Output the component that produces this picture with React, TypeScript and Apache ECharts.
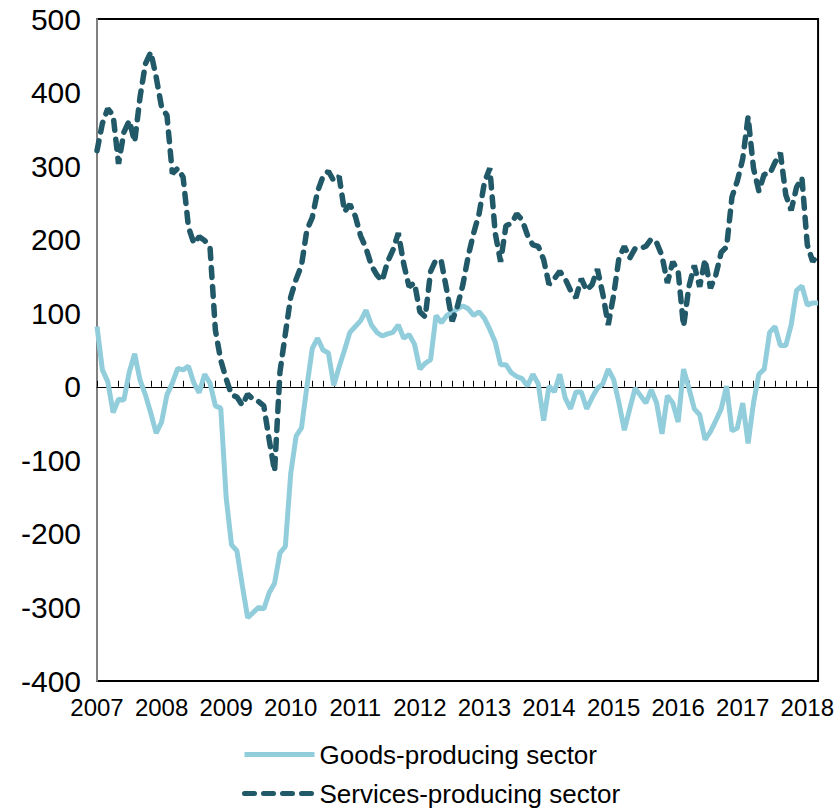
import React, { useEffect, useRef } from "react";
import * as echarts from "echarts";

const years = [2007, 2008, 2009, 2010, 2011, 2012, 2013, 2014, 2015, 2016, 2017, 2018];
const monthCount = 135; // Jan 2007 .. Mar 2018

const categories: string[] = [];
for (const y of years) {
  for (let m = 1; m <= 12; m++) {
    if (categories.length < monthCount) categories.push(`${y}-${String(m).padStart(2, "0")}`);
  }
}

const goods = [
  82, 23, 7, -35, -17, -18, 20, 45, 9, -11, -36, -63,
  -48, -11, 5, 25, 23, 28, 5, -8, 17, 5, -26, -29,
  -150, -215, -223, -270, -314, -307, -300, -302, -280, -267, -226, -217,
  -118, -67, -56, 0, 52, 66, 50, 46, 2, 27, 50, 74,
  82, 90, 104, 84, 74, 69, 72, 74, 84, 66, 71, 58,
  24, 32, 37, 97, 87, 97, 101, 106, 110, 106, 97, 102,
  93, 78, 61, 30, 30, 19, 14, 11, 1, 17, 4, -46,
  1, -7, 17, -15, -30, -7, -7, -30, -15, -2, 4, 24,
  10, -22, -59, -30, -2, -12, -22, -4, -22, -64, -12, -22,
  -48, 24, -2, -30, -38, -72, -61, -46, -30, 1, -60, -56,
  -22, -77, -22, 17, 24, 74, 82, 56, 56, 84, 131, 137,
  111, 114, 114,
];

const services = [
  321, 358, 378, 369, 303, 346, 362, 333, 394, 439, 455, 421,
  380, 369, 290, 297, 285, 217, 195, 204, 199, 190, 77, 36,
  11, -11, -14, -25, -10, -17, -20, -26, -72, -115, 20, 72,
  122, 146, 165, 213, 230, 266, 286, 293, 280, 286, 238, 248,
  232, 205, 188, 165, 152, 144, 170, 186, 209, 167, 136, 141,
  102, 95, 157, 173, 170, 131, 89, 110, 139, 178, 209, 235,
  278, 297, 209, 170, 219, 222, 235, 227, 206, 193, 191, 173,
  139, 147, 157, 147, 131, 121, 147, 131, 139, 160, 126, 84,
  124, 175, 191, 175, 188, 188, 191, 201, 196, 178, 141, 170,
  157, 82, 136, 165, 136, 173, 134, 152, 183, 190, 258, 280,
  310, 367, 297, 266, 289, 289, 305, 318, 261, 240, 271, 284,
  193, 170, 180,
];

const seriesNames = ["Goods-producing sector", "Services-producing sector"];
const yMin = -400;
const yMax = 500;
const yStep = 100;

export default function App() {
  const ref = useRef<HTMLDivElement>(null);
  useEffect(() => {
    if (!ref.current) return;
    const chart = echarts.init(ref.current, null, { renderer: "svg" });
    const sans = "'Liberation Sans', Arial, sans-serif";
    chart.setOption({
      animation: false,
      backgroundColor: "#ffffff",
      grid: {
        left: 97,
        right: 17,
        top: 19,
        bottom: 129,
        show: true,
        borderColor: "#000000",
        borderWidth: 2,
        backgroundColor: "transparent",
      },
      xAxis: [
        {
          type: "category",
          data: categories,
          boundaryGap: false,
          position: "bottom",
          axisLine: { show: false, onZero: false },
          axisTick: { show: false },
          splitLine: { show: false },
          axisLabel: {
            interval: 11,
            formatter: (v: string) => v.slice(0, 4),
            fontSize: 24,
            color: "#000",
            margin: 14,
            fontFamily: sans,
          },
        },
        {
          type: "category",
          data: categories,
          boundaryGap: false,
          position: "bottom",
          axisLine: { show: true, onZero: true, lineStyle: { color: "#000", width: 1 } },
          axisTick: { show: true, inside: true, interval: 1, length: 6, lineStyle: { color: "#000", width: 1 } },
          axisLabel: { show: false },
          splitLine: { show: false },
        },
      ],
      yAxis: {
        type: "value",
        min: yMin,
        max: yMax,
        interval: yStep,
        axisLine: { show: true, onZero: false, lineStyle: { color: "#808080", width: 2 } },
        axisTick: { show: false },
        splitLine: { show: false },
        axisLabel: { fontSize: 30, color: "#000", margin: 16, fontFamily: sans },
      },
      legend: {
        data: seriesNames,
        orient: "vertical",
        left: 242,
        top: 740,
        padding: 0,
        itemWidth: 70,
        itemHeight: 14,
        itemGap: 10,
        itemStyle: { opacity: 0, borderWidth: 0 },
        lineStyle: { width: 5 },
        textStyle: { fontSize: 26, color: "#000", fontFamily: sans, lineHeight: 29 },
      },
      series: [
        {
          name: seriesNames[0],
          type: "line",
          data: goods,
          xAxisIndex: 0,
          symbol: "none",
          lineStyle: { color: "#92CDDC", width: 5 },
          itemStyle: { color: "#92CDDC" },
        },
        {
          name: seriesNames[1],
          type: "line",
          data: services,
          xAxisIndex: 0,
          symbol: "none",
          lineStyle: { color: "#215968", width: 5.5, type: [10, 9], cap: "round" },
          itemStyle: { color: "#215968" },
        },
      ],
    });
    return () => chart.dispose();
  }, []);
  return (
    <div
      ref={ref}
      style={{ position: "fixed", left: 0, top: 0, width: 837, height: 810, background: "#fff" }}
    />
  );
}
